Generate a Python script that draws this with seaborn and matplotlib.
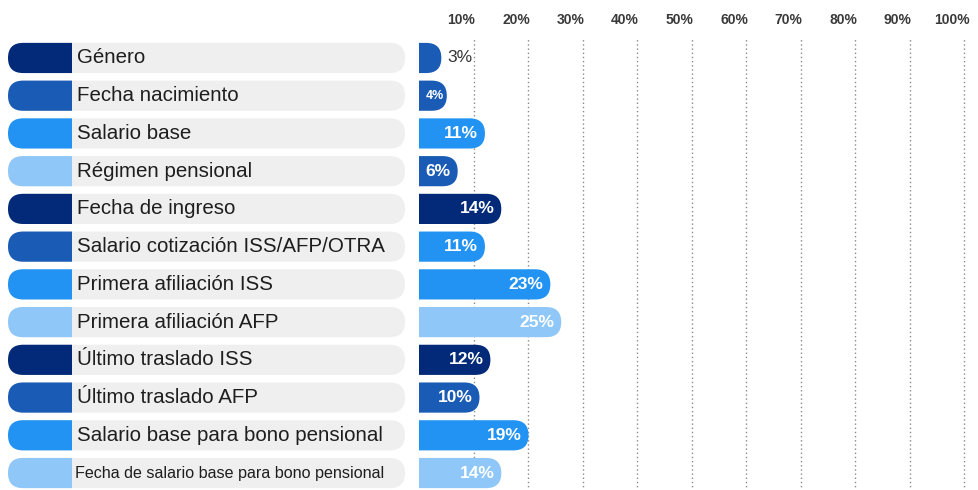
import matplotlib
matplotlib.use("Agg")
import matplotlib.pyplot as plt
import matplotlib.transforms as mtransforms
import seaborn as sns
from matplotlib.patches import FancyBboxPatch, Rectangle

# data
campos = ['Género', 'Fecha nacimiento', 'Salario base', 'Régimen pensional',
          'Fecha de ingreso', 'Salario cotización ISS/AFP/OTRA',
          'Primera afiliación ISS', 'Primera afiliación AFP',
          'Último traslado ISS', 'Último traslado AFP',
          'Salario base para bono pensional',
          'Fecha de salario base para bono pensional']
porcentajes = [3, 4, 11, 6, 14, 11, 23, 25, 12, 10, 19, 14]
ticks = [10, 20, 30, 40, 50, 60, 70, 80, 90, 100]

# colours
oscuro, medio, vivo, claro = '#022a78', '#1a5cb5', '#2293f2', '#8fc8f8'
tapa_colores = [oscuro, medio, vivo, claro] * 3
barra_colores = [medio, medio, vivo, medio, oscuro, vivo,
                 vivo, claro, oscuro, medio, vivo, claro]

sns.set_theme(style='white')
plt.rcParams['font.family'] = ['Liberation Sans', 'DejaVu Sans']

W, H = 979, 490
fig = plt.figure(figsize=(W / 100, H / 100), dpi=100)

top_px, bot_px = 39.1, 491.9
n = len(campos)
fila_px = (bot_px - top_px) / n

# ---- bar panel ----
x0_px, px_por_pct, xmax = 419, 5.45, 102
ax = fig.add_axes([x0_px / W, (H - bot_px) / H, px_por_pct * xmax / W, (bot_px - top_px) / H])
sns.barplot(x=porcentajes, y=campos, hue=campos, palette=barra_colores,
            orient='h', width=0.8, saturation=1, legend=False, ax=ax)
ax.set_xlim(0, xmax)
ax.set_ylim(n - 0.5, -0.5)

r = 15.1 / px_por_pct
ma = (15.1 / fila_px) / r
ext = 6 / px_por_pct      # rounded cap sticks out a little past the value
for p in list(ax.patches):
    x, y, w, h = p.get_x(), p.get_y(), p.get_width(), p.get_height()
    c = p.get_facecolor()
    p.set_visible(False)
    ax.add_patch(FancyBboxPatch((x - r, y), w + r + ext, h,
                                boxstyle=f'round,pad=0,rounding_size={r}',
                                mutation_aspect=ma, fc=c, ec='none', zorder=3))

gap = 7 / px_por_pct
for i, v in enumerate(porcentajes):
    txt = f'{v}%'
    if v < 4:
        ax.text(v + ext + 1.1, i, txt, ha='left', va='center', fontsize=12.5,
                color='#333333', zorder=4)
    elif v < 5:
        ax.text(v + ext - 0.6, i, txt, ha='right', va='center', fontsize=9,
                color='white', fontweight='bold', zorder=4)
    else:
        ax.text(v + ext - gap, i, txt, ha='right', va='center', fontsize=12.5,
                color='white', fontweight='bold', zorder=4)

ax.set_xticks(ticks)
ax.set_xticklabels([f'{t}%' for t in ticks], fontsize=10, fontweight='bold', color='#3a3a3a')
ax.xaxis.tick_top()
ax.tick_params(axis='x', length=0, pad=9)
shift = mtransforms.ScaledTranslation(-12 / 100, 0, fig.dpi_scale_trans)
for lab in ax.get_xticklabels():
    lab.set_transform(lab.get_transform() + shift)
ax.set_yticks([])
ax.set_xlabel('')
ax.set_ylabel('')
ax.grid(axis='x', linestyle=(0, (1, 2)), color='#8a8a8a', linewidth=1)
ax.set_axisbelow(True)
for s in ax.spines.values():
    s.set_visible(False)

# ---- label panel ----
lx0, lx1 = 8, 405
axl = fig.add_axes([lx0 / W, (H - bot_px) / H, (lx1 - lx0) / W, (bot_px - top_px) / H])
axl.set_xlim(0, lx1 - lx0)
axl.set_ylim(n - 0.5, -0.5)
axl.axis('off')
rl = 15.1
mal = 1 / fila_px
alto = 0.8
tapa_fin = 72 - lx0
for i, (lab, c) in enumerate(zip(campos, tapa_colores)):
    y = i - alto / 2
    axl.add_patch(FancyBboxPatch((0, y), lx1 - lx0, alto,
                                 boxstyle=f'round,pad=0,rounding_size={rl}',
                                 mutation_aspect=mal, fc='#efefef', ec='none', zorder=1))
    tapa = FancyBboxPatch((0, y), tapa_fin + 2 * rl, alto,
                          boxstyle=f'round,pad=0,rounding_size={rl}',
                          mutation_aspect=mal, fc=c, ec='none', zorder=2)
    axl.add_patch(tapa)
    tapa.set_clip_path(Rectangle((0, y - 0.05), tapa_fin, alto + 0.1, transform=axl.transData))
    if len(lab) < 35:
        axl.text(tapa_fin + 5, i, lab, ha='left', va='center', fontsize=14.8,
                 color='#1e1e1e', zorder=4)
    else:
        axl.text(tapa_fin + 3, i, lab, ha='left', va='center', fontsize=11.6,
                 color='#1e1e1e', zorder=4)

fig.savefig('out.png', dpi=100)
